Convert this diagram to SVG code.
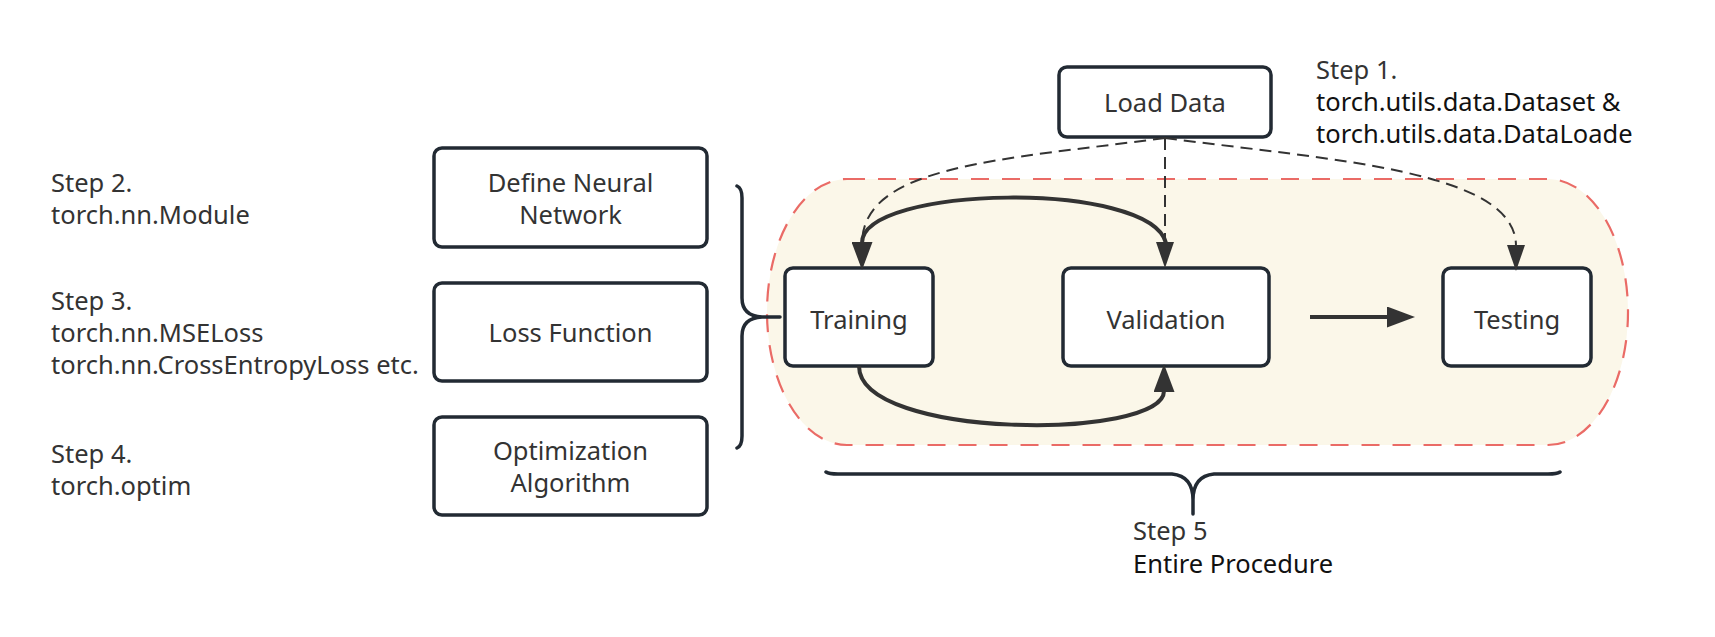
<svg xmlns="http://www.w3.org/2000/svg" width="1715" height="637" viewBox="0 0 1715 637">
<style>
.box{fill:#ffffff;stroke:#222a33;stroke-width:3.5}
.lbl{font-family:"Noto Sans","Open Sans","Liberation Sans",sans-serif;font-size:25.5px;fill:#333333}
.blk{fill:#111111}
.mid{text-anchor:middle}
.solid{fill:none;stroke:#333333;stroke-width:4}
.dash{fill:none;stroke:#333333;stroke-width:2;stroke-dasharray:12 7}
.brace{fill:none;stroke:#222a33;stroke-width:3.5;stroke-linecap:round;stroke-linejoin:round}
.area{fill:#fbf7e9;stroke:#ea6b66;stroke-width:2.2;stroke-dasharray:18 13}
</style>
<defs>
<marker id="ah" markerUnits="userSpaceOnUse" markerWidth="28" markerHeight="21" viewBox="0 0 28 21" refX="1" refY="10.5" orient="auto">
<path d="M0,0 L28,10.5 L0,21 Z" fill="#333333"/>
</marker>
<marker id="ahs" markerUnits="userSpaceOnUse" markerWidth="26" markerHeight="18" viewBox="0 0 26 18" refX="1" refY="9" orient="auto">
<path d="M0,0 L26,9 L0,18 Z" fill="#333333"/>
</marker>
</defs>

<g id="procedure-area">
<rect class="area" x="767" y="179" width="861" height="266" rx="80" ry="133"/>
</g>

<g id="load-data">
<rect class="box" x="1059" y="67" width="212" height="70" rx="8"/>
<text class="lbl mid" x="1165" y="112">Load Data</text>
</g>
<g id="define-nn">
<rect class="box" x="434" y="148" width="273" height="99" rx="8"/>
<text class="lbl mid" x="570.5" y="192">Define Neural</text>
<text class="lbl mid" x="570.5" y="224">Network</text>
</g>
<g id="loss-function">
<rect class="box" x="434" y="283" width="273" height="98" rx="8"/>
<text class="lbl mid" x="570.5" y="342">Loss Function</text>
</g>
<g id="optimization">
<rect class="box" x="434" y="417" width="273" height="98" rx="8"/>
<text class="lbl mid" x="570.5" y="460">Optimization</text>
<text class="lbl mid" x="570.5" y="492">Algorithm</text>
</g>
<g id="training">
<rect class="box" x="785" y="268" width="148" height="98" rx="8"/>
<text class="lbl mid" x="859" y="329">Training</text>
</g>
<g id="validation">
<rect class="box" x="1063" y="268" width="206" height="98" rx="8"/>
<text class="lbl mid" x="1166" y="329">Validation</text>
</g>
<g id="testing">
<rect class="box" x="1443" y="268" width="148" height="98" rx="8"/>
<text class="lbl mid" x="1517" y="329">Testing</text>
</g>

<g id="step-labels">
<text class="lbl" x="1316" y="79">Step 1.</text>
<text class="lbl blk" x="1316" y="111">torch.utils.data.Dataset &amp;</text>
<text class="lbl blk" x="1316" y="143">torch.utils.data.DataLoade</text>
<text class="lbl" x="51" y="192">Step 2.</text>
<text class="lbl" x="51" y="224">torch.nn.Module</text>
<text class="lbl" x="51" y="310">Step 3.</text>
<text class="lbl" x="51" y="342">torch.nn.MSELoss</text>
<text class="lbl" x="51" y="374">torch.nn.CrossEntropyLoss etc.</text>
<text class="lbl" x="51" y="463">Step 4.</text>
<text class="lbl" x="51" y="495">torch.optim</text>
<text class="lbl" x="1133" y="540">Step 5</text>
<text class="lbl blk" x="1133" y="573">Entire Procedure</text>
</g>

<g id="brace-left">
<path class="brace" d="M737,186 Q742,188 742,198 L742,298 Q742,316 762,317 L780,317 M762,317 Q742,318 742,336 L742,436 Q742,446 737,448"/>
</g>
<g id="brace-bottom">
<path class="brace" d="M826,472 Q829,474 838,474 L1172,474 Q1193,476 1193,500 L1193,514 M1193,500 Q1193,476 1214,474 L1548,474 Q1557,474 1560,472"/>
</g>

<g id="connectors">
<path class="dash" d="M1165,138 L1165,243" marker-end="url(#ahs)"/>
<path class="dash" d="M1165,138 C1000,160 862,165 862,244" marker-end="url(#ahs)"/>
<path class="dash" d="M1165,138 C1330,160 1516,170 1516,246" marker-end="url(#ahs)"/>
<path class="solid" d="M1166,243 C1150,180 862,185 862,243" marker-end="url(#ah)"/>
<path class="solid" d="M859,366 C859,440 1164,440 1164,391" marker-end="url(#ah)"/>
<path class="solid" d="M1310,317 L1388,317" marker-end="url(#ah)"/>
</g>
</svg>
